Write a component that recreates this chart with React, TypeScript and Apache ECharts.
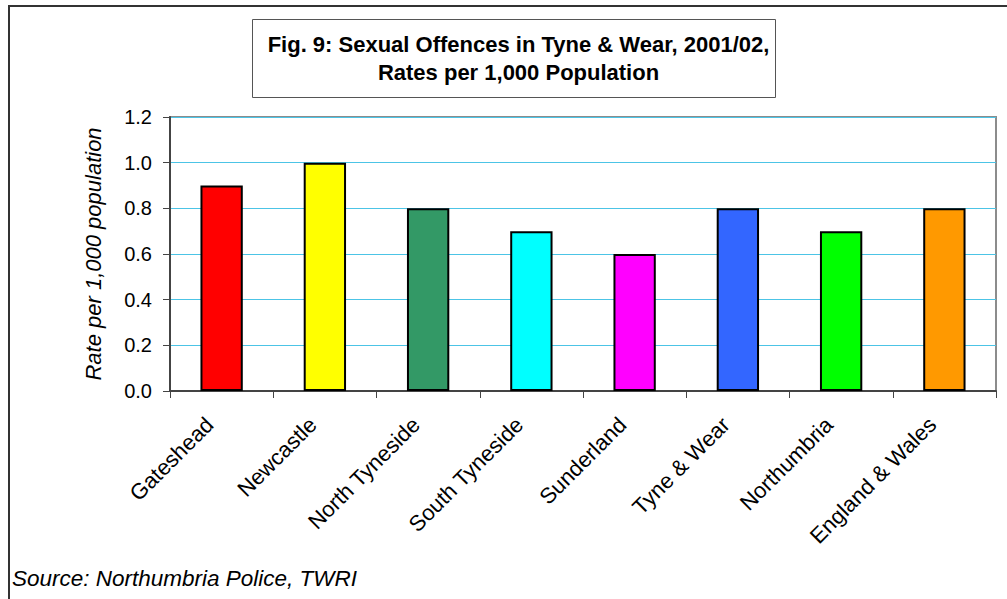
import React, { useEffect, useRef } from "react";
import * as echarts from "echarts";

const categories = [
  "Gateshead",
  "Newcastle",
  "North Tyneside",
  "South Tyneside",
  "Sunderland",
  "Tyne & Wear",
  "Northumbria",
  "England & Wales",
];
const rates = [0.9, 1.0, 0.8, 0.7, 0.6, 0.8, 0.7, 0.8];
const barColors = [
  "#FF0000",
  "#FFFF00",
  "#339966",
  "#00FFFF",
  "#FF00FF",
  "#3366FF",
  "#00FF00",
  "#FF9900",
];
const titleLines = [
  "Fig. 9: Sexual Offences in Tyne & Wear, 2001/02,",
  "Rates per 1,000 Population",
];
const yAxisName = "Rate per 1,000 population";
const sourceText = "Source: Northumbria Police, TWRI";

const FONT = "Liberation Sans, Arial, sans-serif";

export default function App() {
  const ref = useRef<HTMLDivElement>(null);
  useEffect(() => {
    if (!ref.current) return;
    const chart = echarts.init(ref.current, null, { renderer: "svg" });
    chart.setOption({
      animation: false,
      backgroundColor: "#ffffff",
      title: {
        text: titleLines.join("\n"),
        left: 513.5,
        textAlign: "center",
        top: 25,
        textStyle: {
          fontFamily: FONT,
          fontSize: 22,
          fontWeight: "bold",
          color: "#000",
          lineHeight: 28,
        },
      },
      grid: {
        left: 170,
        right: 11,
        top: 117,
        bottom: 208,
        show: true,
        borderColor: "#8c8c8c",
        borderWidth: 2,
        backgroundColor: "#ffffff",
      },
      xAxis: {
        type: "category",
        data: categories,
        boundaryGap: true,
        axisLine: { show: true, lineStyle: { color: "#444", width: 2 } },
        axisTick: {
          show: true,
          alignWithLabel: false,
          length: 7,
          lineStyle: { color: "#444", width: 1 },
        },
        axisLabel: {
          rotate: 45,
          interval: 0,
          margin: 18,
          padding: [0, 17, 0, 0],
          fontFamily: FONT,
          fontSize: 22,
          color: "#000",
        },
      },
      yAxis: {
        type: "value",
        min: 0,
        max: 1.2,
        interval: 0.2,
        name: yAxisName,
        nameLocation: "middle",
        nameGap: 66,
        nameTextStyle: {
          fontFamily: FONT,
          fontSize: 22,
          fontStyle: "italic",
          color: "#000",
        },
        axisLine: { show: true, lineStyle: { color: "#444", width: 2 } },
        axisTick: { show: true, length: 7, lineStyle: { color: "#444", width: 1 } },
        axisLabel: {
          formatter: (v: number) => v.toFixed(1),
          margin: 18,
          fontFamily: FONT,
          fontSize: 20,
          color: "#000",
        },
        splitLine: { show: true, lineStyle: { color: "#4cc4e6", width: 1 } },
      },
      series: [
        {
          type: "bar",
          data: rates.map((v, i) => ({
            value: v,
            itemStyle: { color: barColors[i] },
          })),
          barWidth: "41%",
          itemStyle: { borderColor: "#000", borderWidth: 2 },
        },
      ],
      graphic: [
        {
          type: "rect",
          shape: { x: 9, y: 6, width: 1100, height: 700 },
          style: { fill: "none", stroke: "#333", lineWidth: 2 },
          silent: true,
        },
        {
          type: "rect",
          shape: { x: 252.5, y: 19.5, width: 523, height: 78 },
          style: { fill: "none", stroke: "#555", lineWidth: 1 },
          silent: true,
        },
        {
          type: "text",
          x: 12,
          y: 578,
          style: {
            text: sourceText,
            fontFamily: FONT,
            fontSize: 22.5,
            fontStyle: "italic",
            fill: "#000",
            textVerticalAlign: "middle",
          },
        },
      ],
    });
    return () => chart.dispose();
  }, []);
  return (
    <div
      ref={ref}
      style={{ position: "fixed", left: 0, top: 0, width: 1007, height: 599 }}
    />
  );
}
